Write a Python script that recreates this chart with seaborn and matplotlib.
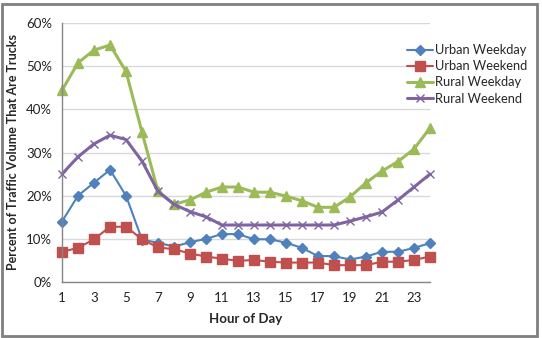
import matplotlib
matplotlib.use("Agg")
import matplotlib.pyplot as plt
import matplotlib.patches as mpatches
from matplotlib.ticker import PercentFormatter, MultipleLocator
import seaborn as sns
import pandas as pd

hours = list(range(1, 25))
urban_weekday = [14, 20, 23, 26, 20, 9.8, 9.1, 8.2, 9.2, 10, 11.1, 11.1, 9.9, 9.9, 9.1, 7.9, 6, 6, 5.2, 5.9, 7, 7, 7.9, 9]
urban_weekend = [7, 7.9, 9.9, 12.8, 12.8, 9.9, 8, 7.6, 6.6, 5.9, 5.4, 4.9, 5.1, 4.7, 4.5, 4.5, 4.5, 3.9, 3.9, 3.9, 4.7, 4.7, 5.1, 5.9]
rural_weekday = [44.4, 50.8, 53.7, 54.9, 48.8, 34.7, 21, 18, 19, 20.8, 22, 22, 20.8, 20.8, 19.9, 18.8, 17.3, 17.3, 19.7, 23, 25.7, 27.9, 30.8, 35.7]
rural_weekend = [25, 29, 32, 34, 33, 28, 21, 18, 16.3, 15.1, 13.2, 13.2, 13.2, 13.2, 13.2, 13.2, 13.2, 13.2, 14.1, 15.1, 16.2, 19, 22, 25]
series_names = ["Urban Weekday", "Urban Weekend", "Rural Weekday", "Rural Weekend"]
colors = ["#4F81BD", "#C0504D", "#9BBB59", "#8064A2"]
markers = ["D", "s", "^", "x"]
msizes = [5, 6.5, 7, 6]

rows = []
for name, vals in zip(series_names, [urban_weekday, urban_weekend, rural_weekday, rural_weekend]):
    for h, v in zip(hours, vals):
        rows.append({"Hour": h, "Value": v, "Series": name})
df = pd.DataFrame(rows)

sns.set_theme(style="white")
plt.rcParams['font.family'] = ['Lato', 'DejaVu Sans']

fig = plt.figure(figsize=(5.42, 3.38), dpi=100)
ax = fig.add_axes([62/542, 1-282/338, (430-62)/542, (282-23)/338])

for name, c, m, ms in zip(series_names, colors, markers, msizes):
    sub = df[df["Series"] == name]
    sns.lineplot(data=sub, x="Hour", y="Value", ax=ax, color=c, marker=m,
                 markersize=ms, linewidth=2.2 if name.startswith("Rural") else 1.5,
                 markeredgecolor=c, markeredgewidth=1.0, label=name, clip_on=False)

ax.set_xlim(1, 24)
ax.set_ylim(0, 60)
ax.yaxis.set_major_locator(MultipleLocator(10))
ax.yaxis.set_major_formatter(PercentFormatter(decimals=0))
ax.set_xticks(list(range(1, 25)))
ax.set_xticklabels([str(h) if h % 2 == 1 else "" for h in hours])
ax.grid(axis="y", color="#d9d9d9", linewidth=1)
ax.set_axisbelow(True)
for s in ["top", "right"]:
    ax.spines[s].set_visible(False)
for s in ["left", "bottom"]:
    ax.spines[s].set_color("#868686")
    ax.spines[s].set_linewidth(1)
ax.tick_params(axis="both", which="major", direction="out", length=4, width=1,
               color="#868686", labelsize=9.5, labelcolor="#222222", pad=3)
ax.set_xlabel("Hour of Day", fontsize=9.5, fontweight="bold", labelpad=7)
ax.set_ylabel("Percent of Traffic Volume That Are Trucks", fontsize=9, fontweight="bold", labelpad=5)

leg = ax.legend(loc="upper left", bbox_to_anchor=(402/542, 1-39/338), bbox_transform=fig.transFigure,
                frameon=False, fontsize=9.3, handlelength=2.0, handletextpad=0.15,
                labelspacing=0.32, borderaxespad=0)

border = mpatches.Rectangle((2/542, 2/338), 535/542, 332/338, transform=fig.transFigure,
                            fill=False, edgecolor="#7f7f7f", linewidth=2)
fig.patches.append(border)

fig.savefig("out.png", dpi=100)
